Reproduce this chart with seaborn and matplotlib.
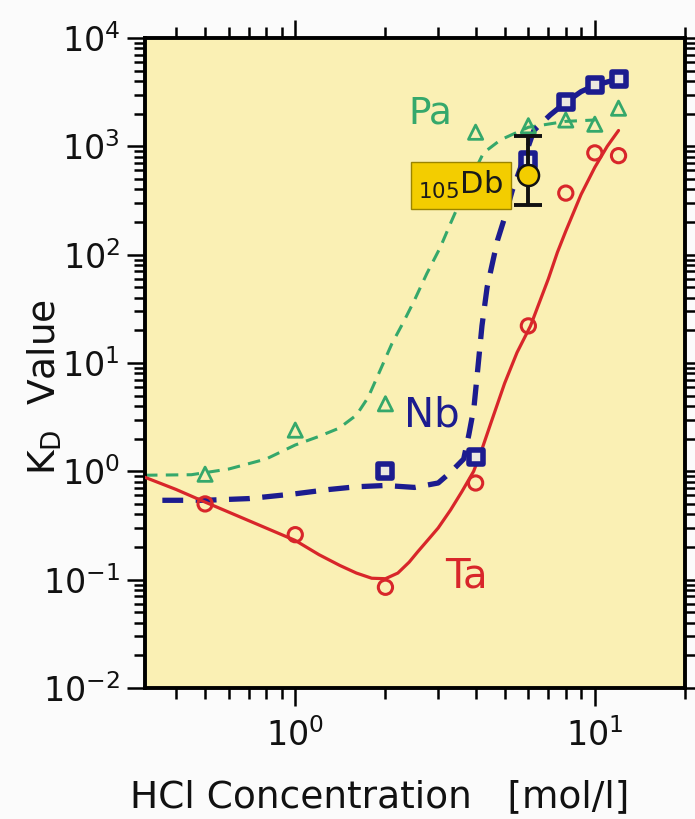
import matplotlib
matplotlib.use('Agg')
import matplotlib.pyplot as plt
import seaborn as sns
import numpy as np
import pandas as pd
from matplotlib.ticker import LogLocator, NullFormatter, LogFormatterMathtext

# measured K_D points (HCl concentration in mol/l)
ta_x = [0.5, 1, 2, 4, 6, 8, 10, 12]
ta_y = [0.5, 0.26, 0.085, 0.78, 22, 370, 870, 820]
nb_x = [2, 4, 6, 8, 10, 12]
nb_y = [1.0, 1.35, 750, 2550, 3650, 4200]
pa_x = [0.5, 1, 2, 4, 6, 8, 10, 12]
pa_y = [0.94, 2.4, 4.2, 1350, 1550, 1750, 1600, 2250]

# hand drawn guide curves
ta_fit_x = [0.315, 0.4, 0.5, 0.7, 1.0, 1.2, 1.41, 1.6, 1.8, 2.0, 2.2, 2.4, 2.56, 2.8, 3.0,
            3.3, 3.6, 3.94, 4.2, 4.5, 5.0, 5.5, 6.1, 6.5, 7.0, 7.5, 8.0, 9.0, 10.0, 11.0, 12.0]
ta_fit_y = [0.88, 0.68, 0.52, 0.35, 0.23, 0.17, 0.135, 0.115, 0.103, 0.102, 0.115, 0.145, 0.18,
            0.24, 0.3, 0.44, 0.65, 1.0, 1.6, 2.8, 6.5, 12.5, 22, 35, 60, 105, 165, 360, 640,
            1000, 1400]
nb_fit_x = [0.36, 0.5, 0.7, 1.0, 1.3, 1.6, 2.0, 2.5, 3.0, 3.3, 3.65, 3.8, 3.95, 4.07, 4.2,
            4.37, 4.73, 5.0, 5.3, 6.0, 6.26, 7.1, 8.0, 9.0, 10.0, 12.0]
nb_fit_y = [0.54, 0.54, 0.56, 0.62, 0.68, 0.72, 0.74, 0.71, 0.78, 0.98, 1.3, 2.2, 3.9, 9, 22,
            50, 135, 220, 390, 1000, 1400, 1950, 2550, 3200, 3650, 4200]
pa_fit_x = [0.315, 0.45, 0.6, 0.8, 1.0, 1.2, 1.4, 1.6, 1.75, 1.9, 2.1, 2.3, 2.5, 2.75, 3.05,
            3.3, 3.7, 4.25, 4.85, 6.0, 8.0, 10.0]
pa_fit_y = [0.92, 0.93, 1.05, 1.3, 1.75, 2.1, 2.5, 3.3, 4.8, 8, 15, 24, 38, 67, 117,
            195, 400, 870, 1150, 1500, 1700, 1750]

# dubnium result with asymmetric error bar
db_x = [6.0]
db_y = [540]
db_lo = [285]
db_hi = [1240]

RED = '#d8262a'
BLUE = '#1c1c8f'
GREEN = '#35a86b'
GOLD = '#f3cd00'

sns.set_theme(style='ticks')
plt.rcParams['font.family'] = ['DejaVu Sans']
plt.rcParams['lines.scale_dashes'] = False

fig = plt.figure(figsize=(6.95, 8.19), dpi=100, facecolor='#fbfbfb')
ax = fig.add_axes([0.2086, 0.16, 0.777, 0.7936])
ax.set_facecolor('#faf0b4')

# guide curves
sns.lineplot(x=pa_fit_x, y=pa_fit_y, color=GREEN, linewidth=2.2, estimator=None, sort=False,
             linestyle=(0, (9, 6)), ax=ax, zorder=2)
sns.lineplot(x=nb_fit_x, y=nb_fit_y, color=BLUE, linewidth=3.8, estimator=None, sort=False,
             linestyle=(0, (15, 9)), ax=ax, zorder=2)
sns.lineplot(x=ta_fit_x, y=ta_fit_y, color=RED, linewidth=2.3, estimator=None, sort=False,
             ax=ax, zorder=3)

# data points
sns.scatterplot(x=pa_x, y=pa_y, marker='^', s=105, facecolors='none', edgecolors=GREEN,
                linewidths=2.0, ax=ax, zorder=4)
sns.scatterplot(x=nb_x, y=nb_y, marker='s', s=110, facecolors='#ece8e0', edgecolors=BLUE,
                linewidths=4.0, ax=ax, zorder=4)
sns.scatterplot(x=ta_x, y=ta_y, marker='o', s=105, facecolors='none', edgecolors=RED,
                linewidths=2.2, ax=ax, zorder=4)

ax.set_xscale('log')
ax.set_yscale('log')
ax.set_xlim(0.315, 20)
ax.set_ylim(1e-2, 1e4)

# element labels
ax.text(2.83, 2020, 'Pa', color=GREEN, fontsize=27, ha='center', va='center', zorder=5)
ax.text(2.85, 3.29, 'Nb', color=BLUE, fontsize=29, ha='center', va='center', zorder=5)
ax.text(3.73, 0.107, 'Ta', color=RED, fontsize=29, ha='center', va='center', zorder=5)
ax.text(4.96, 437, r'$_{105}$Db', color='#1a1a1a', fontsize=22, ha='right', va='center',
        zorder=6, bbox=dict(boxstyle='square,pad=0.24', facecolor=GOLD, edgecolor='#9a8400',
                            linewidth=1.0))

# Db point
yerr = np.array([[db_y[0] - db_lo[0]], [db_hi[0] - db_y[0]]])
ax.errorbar(db_x, db_y, yerr=yerr, fmt='none', ecolor='#111111', elinewidth=2.8,
            capsize=10, capthick=2.8, zorder=7)
sns.scatterplot(x=db_x, y=db_y, marker='o', s=230, color=GOLD, edgecolor='#111111',
                linewidth=1.8, ax=ax, zorder=8)

# axes styling
for sp in ax.spines.values():
    sp.set_linewidth(2.8)
    sp.set_color('black')
    sp.set_visible(True)
ax.tick_params(which='both', direction='out', top=True, right=True, color='black',
               width=1.8, labelsize=24, labelcolor='#111111')
ax.tick_params(which='major', length=13, pad=5)
ax.tick_params(which='minor', length=8)
ax.tick_params(axis='x', which='major', pad=9)
ax.xaxis.set_major_locator(LogLocator(base=10))
ax.xaxis.set_minor_locator(LogLocator(base=10, subs=np.arange(2, 10)))
ax.yaxis.set_major_locator(LogLocator(base=10, numticks=10))
ax.yaxis.set_minor_locator(LogLocator(base=10, subs=np.arange(2, 10), numticks=10))
ax.xaxis.set_major_formatter(LogFormatterMathtext())
ax.yaxis.set_major_formatter(LogFormatterMathtext())
ax.xaxis.set_minor_formatter(NullFormatter())
ax.yaxis.set_minor_formatter(NullFormatter())
ax.grid(False)

ax.set_xlabel('HCl Concentration   [mol/l]', fontsize=27, color='#111111', va='center')
ax.xaxis.set_label_coords(0.435, -0.168)
ax.set_ylabel(r'K$_\mathrm{D}$  Value', fontsize=27, color='#111111', va='center')
ax.yaxis.set_label_coords(-0.185, 0.463)

plt.savefig('out.png', dpi=100, facecolor=fig.get_facecolor())
